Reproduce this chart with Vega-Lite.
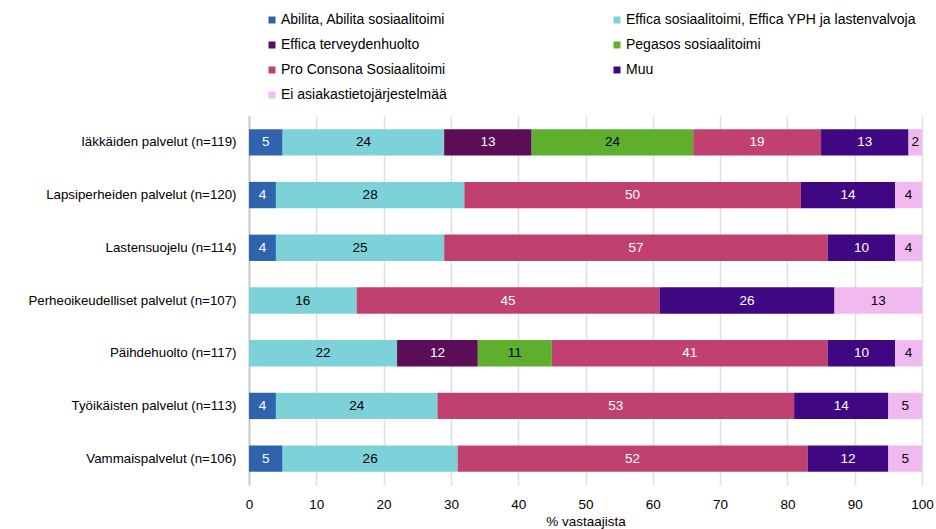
{
  "$schema": "https://vega.github.io/schema/vega-lite/v6.json",
  "width": 673,
  "height": 369,
  "autosize": "none",
  "padding": {"left": 249, "top": 116, "right": 14, "bottom": 44},
  "background": "white",
  "config": {
    "font": "Liberation Sans",
    "view": {"stroke": null},
    "axis": {"labelFont": "Liberation Sans", "titleFont": "Liberation Sans", "labelColor": "#000", "titleColor": "#000"},
    "legend": {"labelFont": "Liberation Sans"}
  },
  "data": {
    "values": [
      {"palvelu": "Iäkkäiden palvelut (n=119)", "jarj": "Abilita, Abilita sosiaalitoimi", "ord": 1, "pct": 5},
      {"palvelu": "Iäkkäiden palvelut (n=119)", "jarj": "Effica sosiaalitoimi, Effica YPH ja lastenvalvoja", "ord": 2, "pct": 24},
      {"palvelu": "Iäkkäiden palvelut (n=119)", "jarj": "Effica terveydenhuolto", "ord": 3, "pct": 13},
      {"palvelu": "Iäkkäiden palvelut (n=119)", "jarj": "Pegasos sosiaalitoimi", "ord": 4, "pct": 24},
      {"palvelu": "Iäkkäiden palvelut (n=119)", "jarj": "Pro Consona Sosiaalitoimi", "ord": 5, "pct": 19},
      {"palvelu": "Iäkkäiden palvelut (n=119)", "jarj": "Muu", "ord": 6, "pct": 13},
      {"palvelu": "Iäkkäiden palvelut (n=119)", "jarj": "Ei asiakastietojärjestelmää", "ord": 7, "pct": 2},
      {"palvelu": "Lapsiperheiden palvelut (n=120)", "jarj": "Abilita, Abilita sosiaalitoimi", "ord": 1, "pct": 4},
      {"palvelu": "Lapsiperheiden palvelut (n=120)", "jarj": "Effica sosiaalitoimi, Effica YPH ja lastenvalvoja", "ord": 2, "pct": 28},
      {"palvelu": "Lapsiperheiden palvelut (n=120)", "jarj": "Pro Consona Sosiaalitoimi", "ord": 5, "pct": 50},
      {"palvelu": "Lapsiperheiden palvelut (n=120)", "jarj": "Muu", "ord": 6, "pct": 14},
      {"palvelu": "Lapsiperheiden palvelut (n=120)", "jarj": "Ei asiakastietojärjestelmää", "ord": 7, "pct": 4},
      {"palvelu": "Lastensuojelu (n=114)", "jarj": "Abilita, Abilita sosiaalitoimi", "ord": 1, "pct": 4},
      {"palvelu": "Lastensuojelu (n=114)", "jarj": "Effica sosiaalitoimi, Effica YPH ja lastenvalvoja", "ord": 2, "pct": 25},
      {"palvelu": "Lastensuojelu (n=114)", "jarj": "Pro Consona Sosiaalitoimi", "ord": 5, "pct": 57},
      {"palvelu": "Lastensuojelu (n=114)", "jarj": "Muu", "ord": 6, "pct": 10},
      {"palvelu": "Lastensuojelu (n=114)", "jarj": "Ei asiakastietojärjestelmää", "ord": 7, "pct": 4},
      {"palvelu": "Perheoikeudelliset palvelut (n=107)", "jarj": "Effica sosiaalitoimi, Effica YPH ja lastenvalvoja", "ord": 2, "pct": 16},
      {"palvelu": "Perheoikeudelliset palvelut (n=107)", "jarj": "Pro Consona Sosiaalitoimi", "ord": 5, "pct": 45},
      {"palvelu": "Perheoikeudelliset palvelut (n=107)", "jarj": "Muu", "ord": 6, "pct": 26},
      {"palvelu": "Perheoikeudelliset palvelut (n=107)", "jarj": "Ei asiakastietojärjestelmää", "ord": 7, "pct": 13},
      {"palvelu": "Päihdehuolto (n=117)", "jarj": "Effica sosiaalitoimi, Effica YPH ja lastenvalvoja", "ord": 2, "pct": 22},
      {"palvelu": "Päihdehuolto (n=117)", "jarj": "Effica terveydenhuolto", "ord": 3, "pct": 12},
      {"palvelu": "Päihdehuolto (n=117)", "jarj": "Pegasos sosiaalitoimi", "ord": 4, "pct": 11},
      {"palvelu": "Päihdehuolto (n=117)", "jarj": "Pro Consona Sosiaalitoimi", "ord": 5, "pct": 41},
      {"palvelu": "Päihdehuolto (n=117)", "jarj": "Muu", "ord": 6, "pct": 10},
      {"palvelu": "Päihdehuolto (n=117)", "jarj": "Ei asiakastietojärjestelmää", "ord": 7, "pct": 4},
      {"palvelu": "Työikäisten palvelut (n=113)", "jarj": "Abilita, Abilita sosiaalitoimi", "ord": 1, "pct": 4},
      {"palvelu": "Työikäisten palvelut (n=113)", "jarj": "Effica sosiaalitoimi, Effica YPH ja lastenvalvoja", "ord": 2, "pct": 24},
      {"palvelu": "Työikäisten palvelut (n=113)", "jarj": "Pro Consona Sosiaalitoimi", "ord": 5, "pct": 53},
      {"palvelu": "Työikäisten palvelut (n=113)", "jarj": "Muu", "ord": 6, "pct": 14},
      {"palvelu": "Työikäisten palvelut (n=113)", "jarj": "Ei asiakastietojärjestelmää", "ord": 7, "pct": 5},
      {"palvelu": "Vammaispalvelut (n=106)", "jarj": "Abilita, Abilita sosiaalitoimi", "ord": 1, "pct": 5},
      {"palvelu": "Vammaispalvelut (n=106)", "jarj": "Effica sosiaalitoimi, Effica YPH ja lastenvalvoja", "ord": 2, "pct": 26},
      {"palvelu": "Vammaispalvelut (n=106)", "jarj": "Pro Consona Sosiaalitoimi", "ord": 5, "pct": 52},
      {"palvelu": "Vammaispalvelut (n=106)", "jarj": "Muu", "ord": 6, "pct": 12},
      {"palvelu": "Vammaispalvelut (n=106)", "jarj": "Ei asiakastietojärjestelmää", "ord": 7, "pct": 5}
    ]
  },
  "encoding": {
    "y": {
      "field": "palvelu",
      "type": "nominal",
      "sort": null,
      "scale": {"paddingInner": 0.5, "paddingOuter": 0.25},
      "axis": {"title": null, "ticks": false, "labelFontSize": 13.3, "labelPadding": 13, "domainColor": "#cccccc", "domainWidth": 2, "labelLimit": 300}
    },
    "x": {
      "field": "pct",
      "type": "quantitative",
      "stack": "zero",
      "scale": {"domain": [0, 100], "nice": false},
      "axis": {"title": "% vastaajista", "titleFontSize": 13.5, "titleFontWeight": "normal", "titlePadding": 4, "labelFontSize": 13.5, "labelPadding": 12, "ticks": false, "domain": false, "values": [0,10,20,30,40,50,60,70,80,90,100], "gridColor": "#e0e0e0", "gridWidth": 1.5, "labelFlush": false}
    },
    "order": {"field": "ord", "type": "quantitative"}
  },
  "layer": [
    {
      "mark": {"type": "bar"},
      "encoding": {
        "color": {
          "field": "jarj",
          "type": "nominal",
          "scale": {
            "domain": ["Abilita, Abilita sosiaalitoimi", "Effica sosiaalitoimi, Effica YPH ja lastenvalvoja", "Effica terveydenhuolto", "Pegasos sosiaalitoimi", "Pro Consona Sosiaalitoimi", "Muu", "Ei asiakastietojärjestelmää"],
            "range": ["#2F63AE", "#7DD1D9", "#5B0E57", "#5EAF2E", "#C0416F", "#3F0882", "#F2B9F1"]
          },
          "legend": {
            "title": null,
            "orient": "none",
            "direction": "horizontal",
            "legendX": 16,
            "legendY": -103,
            "columns": 2,
            "columnPadding": 163,
            "rowPadding": 11,
            "symbolType": "square",
            "symbolSize": 49,
            "symbolStrokeWidth": 0,
            "symbolOpacity": 1,
            "labelFontSize": 14,
            "labelColor": "#000",
            "labelOffset": 2,
            "labelLimit": 400
          }
        }
      }
    },
    {
      "mark": {"type": "text", "fontSize": 13.5, "baseline": "middle", "align": "center"},
      "encoding": {
        "x": {"field": "pct", "type": "quantitative", "stack": "zero", "bandPosition": 0.5},
        "text": {"field": "pct", "type": "quantitative"},
        "color": {
          "condition": {
            "test": "indexof(['Effica sosiaalitoimi, Effica YPH ja lastenvalvoja', 'Pegasos sosiaalitoimi', 'Ei asiakastietojärjestelmää'], datum.jarj) >= 0",
            "value": "#000000"
          },
          "value": "#ffffff"
        }
      }
    }
  ]
}
